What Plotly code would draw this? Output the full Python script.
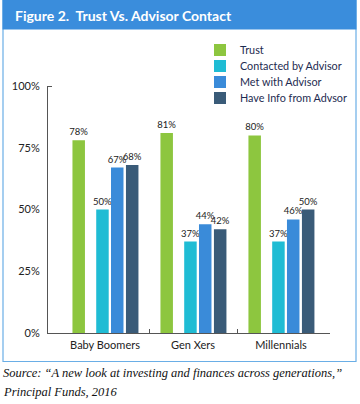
import plotly.graph_objects as go

categories = ["Baby Boomers", "Gen Xers", "Millennials"]
series_names = ["Trust", "Contacted by Advisor", "Met with Advisor", "Have Info from Advsor"]
trust = [78, 81, 80]
contacted = [50, 37, 37]
met = [67, 44, 46]
have_info = [68, 42, 50]
y_ticks = [0, 25, 50, 75, 100]
y_tick_labels = ["0%", "25%", "50%", "75%", "100%"]

W, H = 360, 404
ML, MR, MT, MB = 48, 30, 86, 71
PW, PH = W - ML - MR, H - MT - MB


def px(x):
    return (x - ML) / PW


def py(y):
    return (H - MB - y) / PH


colors = ["#8dc63f", "#1fbcd4", "#3a8bd9", "#3a5b78"]
offsets = [-0.37, -0.10, 0.068, 0.238]
legend_ids = ["legend", "legend2", "legend3", "legend4"]
legend_rows = [50, 66, 82, 98]
values = [trust, contacted, met, have_info]
xpos = list(range(len(categories)))

fig = go.Figure()
for name, vals, col, off, lg in zip(series_names, values, colors, offsets, legend_ids):
    fig.add_trace(go.Bar(
        x=xpos, y=vals, name=name, legend=lg,
        marker=dict(color=col, line=dict(width=0)),
        width=0.142, offset=off,
        text=[f"{v}%" for v in vals], textposition="outside",
        constraintext="none", cliponaxis=False,
        textfont=dict(family="Lato", size=9.5, color="#222"),
        hoverinfo="skip",
    ))

shapes = [
    dict(type="rect", xref="paper", yref="paper",
         x0=px(3), x1=px(356), y0=py(361.5), y1=py(0.5),
         line=dict(color="#6aaee6", width=1.2), fillcolor="rgba(0,0,0,0)", layer="below"),
    dict(type="rect", xref="paper", yref="paper",
         x0=px(2.5), x1=px(356.5), y0=py(29.5), y1=py(0),
         line=dict(width=0), fillcolor="#3a8ddc", layer="below"),
]

annotations = [
    dict(xref="paper", yref="paper", x=px(13), y=py(15), xanchor="left", yanchor="middle",
         text="<b>Figure 2.  Trust Vs. Advisor Contact</b>", showarrow=False,
         font=dict(family="Lato", size=14, color="white")),
    dict(xref="paper", yref="paper", x=px(1), y=py(373), xanchor="left", yanchor="middle",
         text="<i>Source: “A new look at investing and finances across generations,”</i>",
         showarrow=False, font=dict(family="Liberation Serif", size=12.5, color="#111")),
    dict(xref="paper", yref="paper", x=px(1), y=py(392), xanchor="left", yanchor="middle",
         text="<i>Principal Funds, 2016</i>",
         showarrow=False, font=dict(family="Liberation Serif", size=12.5, color="#111")),
]

legend_layout = {}
for lg, row in zip(legend_ids, legend_rows):
    legend_layout[lg] = dict(
        x=px(200), y=py(row), xanchor="left", yanchor="middle",
        font=dict(family="Lato", size=10.8, color="#1d2b50"),
        bgcolor="rgba(0,0,0,0)", itemclick=False, itemdoubleclick=False,
    )

fig.update_layout(
    width=W, height=H, autosize=False,
    margin=dict(l=ML, r=MR, t=MT, b=MB, pad=0, autoexpand=False),
    paper_bgcolor="white", plot_bgcolor="white",
    showlegend=True,
    xaxis=dict(range=[-0.648, 2.557], tickvals=xpos, ticktext=categories,
               showline=True, linecolor="#555", linewidth=1, ticks="",
               showgrid=False, zeroline=False, ticklabelstandoff=2,
               tickfont=dict(family="Lato", size=11, color="#222"),
               minor=dict(tickvals=[0.5, 1.5], ticks="inside", ticklen=4,
                          tickcolor="#555", tickwidth=1, showgrid=False)),
    yaxis=dict(range=[0, 100], tickvals=y_ticks, ticktext=y_tick_labels,
               showline=True, linecolor="#555", linewidth=1, ticks="",
               showgrid=False, zeroline=False, ticklabelstandoff=5,
               tickfont=dict(family="Lato", size=11, color="#222"),
               minor=dict(tickvals=[100], ticks="inside", ticklen=4,
                          tickcolor="#555", tickwidth=1, showgrid=False)),
    shapes=shapes, annotations=annotations,
    font=dict(family="Lato"),
    **legend_layout,
)

fig.write_html("out.html", config={"displayModeBar": False},
               post_script="document.body.style.margin='0px';document.body.style.overflow='hidden';")
